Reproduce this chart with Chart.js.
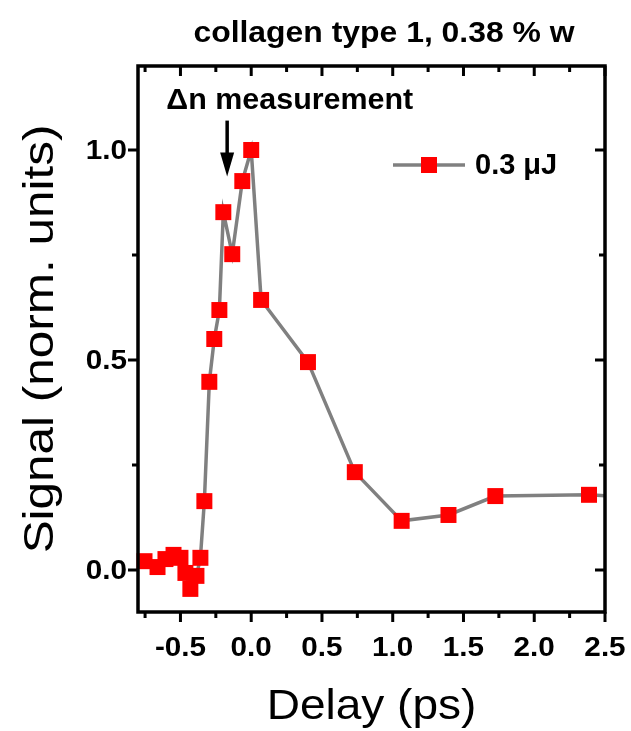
<!DOCTYPE html>
<html lang="en">
<head>
    <meta charset="UTF-8">
    <title>collagen type 1, 0.38 % w</title>
    <script src="https://cdn.jsdelivr.net/npm/chart.js"></script>
    <style>
        html, body { margin: 0; padding: 0; background: #fff; }
        #wrap { width: 631px; height: 731px; }
    </style>
</head>
<body>
    <div id="wrap"><canvas id="chart"></canvas></div>
    <script>
        // values
        const delay = [-0.754, -0.662, -0.606, -0.549, -0.5, -0.465, -0.43, -0.387, -0.359, -0.331,
                       -0.296, -0.261, -0.225, -0.197, -0.134, -0.063, 0.0, 0.07, 0.401, 0.732,
                       1.063, 1.394, 1.725, 2.387, 2.75];
        const signal = [0.021, 0.007, 0.026, 0.036, 0.029, -0.007, -0.045, -0.014, 0.029, 0.164,
                        0.448, 0.55, 0.619, 0.852, 0.752, 0.926, 1.0, 0.643, 0.495, 0.233,
                        0.117, 0.131, 0.176, 0.179, 0.172];
        const xTicks = [-0.5, 0.0, 0.5, 1.0, 1.5, 2.0, 2.5];
        const yTicks = [0.0, 0.5, 1.0];
        const xMinor = [-0.75, -0.25, 0.25, 0.75, 1.25, 1.75, 2.25];
        const yMinor = [0.25, 0.75];
        const seriesLabel = '0.3 \u03bcJ';
        const title = 'collagen type 1, 0.38 % w';
        const note = '\u0394n measurement';
        const xTitle = 'Delay (ps)';
        const yTitle = 'Signal (norm. units)';

        const FONT = '"Liberation Sans", Arial, sans-serif';

        // text with a little horizontal stretch, the original font runs wider
        function text(ctx, str, x, y, font, align, base, stretch, rot) {
            ctx.save();
            ctx.translate(x, y);
            if (rot) ctx.rotate(rot);
            ctx.scale(stretch || 1, 1);
            ctx.font = font;
            ctx.textAlign = align;
            ctx.textBaseline = base;
            ctx.fillText(str, 0, 0);
            ctx.restore();
        }

        // frame, mirrored ticks, labels, arrow note and legend
        const decor = {
            id: 'decor',
            afterDraw(chart) {
                const ctx = chart.ctx;
                const a = chart.chartArea;
                const xs = chart.scales.x, ys = chart.scales.y;
                ctx.save();
                ctx.strokeStyle = '#000';
                ctx.fillStyle = '#000';
                ctx.lineWidth = 3.5;
                ctx.strokeRect(a.left, a.top, a.right - a.left, a.bottom - a.top);

                const xtick = (vals, len) => {
                    vals.forEach(v => {
                        const px = xs.getPixelForValue(v);
                        ctx.beginPath();
                        ctx.moveTo(px, a.bottom); ctx.lineTo(px, a.bottom + len);
                        ctx.moveTo(px, a.top); ctx.lineTo(px, a.top + len);
                        ctx.stroke();
                    });
                };
                const ytick = (vals, len) => {
                    vals.forEach(v => {
                        const py = ys.getPixelForValue(v);
                        ctx.beginPath();
                        ctx.moveTo(a.left, py); ctx.lineTo(a.left - len, py);
                        ctx.moveTo(a.right, py); ctx.lineTo(a.right - len, py);
                        ctx.stroke();
                    });
                };
                ctx.lineWidth = 3;
                xtick(xTicks, 10); xtick(xMinor, 6);
                ytick(yTicks, 10); ytick(yMinor, 6);

                const tickFont = 'bold 28px ' + FONT;
                xTicks.forEach(v => text(ctx, v.toFixed(1), xs.getPixelForValue(v), a.bottom + 36,
                    tickFont, 'center', 'middle', 1.06));
                yTicks.forEach(v => text(ctx, v.toFixed(1), a.left - 11, ys.getPixelForValue(v) + 1,
                    tickFont, 'right', 'middle', 1.06));

                const titleFont = '43px ' + FONT;
                text(ctx, xTitle, (a.left + a.right) / 2, 707, titleFont, 'center', 'middle', 1.07);
                text(ctx, yTitle, 41, (a.top + a.bottom) / 2, titleFont, 'center', 'middle', 1.15, -Math.PI / 2);

                const bold = 'bold 29px ' + FONT;
                text(ctx, title, 384, 42, bold, 'center', 'alphabetic', 1.1);

                // note with arrow
                text(ctx, note, xs.getPixelForValue(-0.6), ys.getPixelForValue(1.098), bold, 'left', 'alphabetic', 1.05);
                const ax = xs.getPixelForValue(-0.17);
                const y0 = ys.getPixelForValue(1.07), y1 = ys.getPixelForValue(0.937);
                ctx.lineWidth = 3.5;
                ctx.beginPath();
                ctx.moveTo(ax, y0); ctx.lineTo(ax, y1 - 18);
                ctx.stroke();
                ctx.beginPath();
                ctx.moveTo(ax - 7, y1 - 24); ctx.lineTo(ax + 7, y1 - 24); ctx.lineTo(ax, y1);
                ctx.closePath();
                ctx.fill();

                // legend
                const ly = 165;
                ctx.strokeStyle = '#808080';
                ctx.lineWidth = 3.5;
                ctx.beginPath();
                ctx.moveTo(393, ly); ctx.lineTo(465, ly);
                ctx.stroke();
                ctx.fillStyle = '#ff0000';
                ctx.fillRect(429 - 8, ly - 8, 16, 16);
                ctx.fillStyle = '#000';
                text(ctx, seriesLabel, 475, ly + 1, bold, 'left', 'middle', 1.0);
                ctx.restore();
            }
        };

        new Chart(document.getElementById('chart'), {
            type: 'line',
            data: {
                datasets: [{
                    label: seriesLabel,
                    data: delay.map((d, i) => ({ x: d, y: signal[i] })),
                    borderColor: '#808080',
                    borderWidth: 3.5,
                    pointStyle: 'rect',
                    pointRadius: 11.3,
                    pointHoverRadius: 11.3,
                    pointBackgroundColor: '#ff0000',
                    pointBorderWidth: 0,
                    tension: 0,
                    clip: { left: 8, top: 8, bottom: 8, right: 0 }
                }]
            },
            options: {
                responsive: true,
                maintainAspectRatio: false,
                animation: false,
                layout: { padding: { top: 66, right: 26, left: 0, bottom: 0 } },
                plugins: {
                    legend: { display: false },
                    tooltip: { enabled: false }
                },
                scales: {
                    x: {
                        type: 'linear',
                        min: -0.8,
                        max: 2.5,
                        afterFit: s => { s.height = 119; s.paddingLeft = 0; s.paddingRight = 0; },
                        afterBuildTicks: s => { s.ticks = xTicks.map(v => ({ value: v })); },
                        grid: { display: false, drawTicks: false },
                        border: { display: false },
                        ticks: { display: false }
                    },
                    y: {
                        min: -0.1,
                        max: 1.2,
                        afterFit: s => { s.width = 138; s.paddingTop = 0; s.paddingBottom = 0; },
                        afterBuildTicks: s => { s.ticks = yTicks.map(v => ({ value: v })); },
                        grid: { display: false, drawTicks: false },
                        border: { display: false },
                        ticks: { display: false }
                    }
                }
            },
            plugins: [decor]
        });
    </script>
</body>
</html>
